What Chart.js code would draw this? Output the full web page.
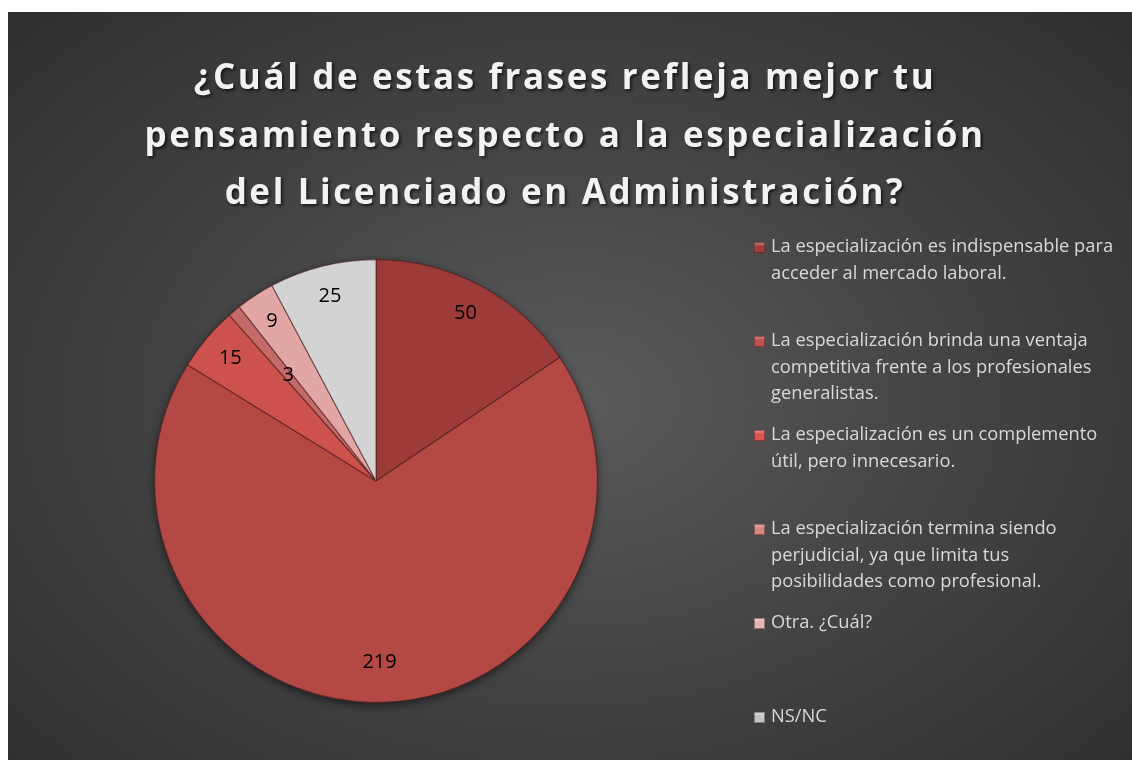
<!DOCTYPE html>
<html>
<head>
  <title>Especialización del Licenciado en Administración</title>
  <script src="https://cdn.jsdelivr.net/npm/chart.js"></script>
  <style>
    body { margin: 0; background: #fff; font-family: "Open Sans", sans-serif; }
    #panel {
      position: absolute; left: 8px; top: 12px; width: 1124px; height: 748px;
      background: radial-gradient(ellipse 75% 80% at 50% 52%, #5b5b5b 0%, #444 45%, #2b2b2b 100%);
      overflow: hidden;
    }
    #title {
      position: absolute; left: 0; top: 35px; width: 1114px; text-align: center;
      color: #f2f2f2; font-weight: 700; font-size: 35px; line-height: 57.5px;
      letter-spacing: 2.6px; text-shadow: 2px 2px 3px rgba(0,0,0,0.6);
    }
    #chartWrap { position: absolute; left: 0; top: 0; width: 1124px; height: 748px; }
    #legend { position: absolute; left: 746px; top: 220px; width: 380px; }
    .item { height: 94px; position: relative; color: #d9d9d9; font-size: 18.3px; line-height: 26.5px; }
    .item .box {
      position: absolute; left: 0; top: 10px; width: 11px; height: 11px;
      box-shadow: inset 0 0 0 1px rgba(0,0,0,0.35), inset 0 3px 2px rgba(255,255,255,0.25);
    }
    .item .txt { margin-left: 17px; white-space: nowrap; }
  </style>
</head>
<body>
  <div id="panel">
    <div id="chartWrap"><canvas id="pieChart"></canvas></div>
    <div id="title"></div>
    <div id="legend"></div>
  </div>
  <script>
    const TITLE_LINES = [
      '¿Cuál de estas frases refleja mejor tu',
      'pensamiento respecto a la especialización',
      'del Licenciado en Administración?'
    ];
    // legend labels, already split the way the original wraps them
    const LABELS = [
      ['La especialización es indispensable para', 'acceder al mercado laboral.'],
      ['La especialización brinda una ventaja', 'competitiva frente a los profesionales', 'generalistas.'],
      ['La especialización es un complemento', 'útil, pero innecesario.'],
      ['La especialización termina siendo', 'perjudicial, ya que limita tus', 'posibilidades como profesional.'],
      ['Otra. ¿Cuál?'],
      ['NS/NC']
    ];
    const VALUES = [50, 219, 15, 3, 9, 25];
    const COLORS = ['#9c3b39', '#b44845', '#cd524e', '#c46a68', '#e2a6a5', '#d3d3d3'];
    const LEGEND_COLORS = ['#a23f3c', '#c0504d', '#d9534f', '#d98583', '#e8b4b3', '#c4c4c4'];

    document.getElementById('title').innerHTML = TITLE_LINES.join('<br>');

    // value labels inside the slices
    const sliceLabels = {
      id: 'sliceLabels',
      afterDatasetsDraw(chart) {
        const ctx = chart.ctx;
        const meta = chart.getDatasetMeta(0);
        const data = chart.data.datasets[0].data;
        ctx.save();
        ctx.font = '20px "Open Sans", sans-serif';
        ctx.fillStyle = '#000';
        ctx.textAlign = 'center';
        ctx.textBaseline = 'middle';
        meta.data.forEach((arc, i) => {
          const p = arc.getProps(['x', 'y', 'startAngle', 'endAngle', 'outerRadius'], true);
          const mid = (p.startAngle + p.endAngle) / 2;
          let f = 0.86;
          if (data[i] < 5) f = 0.62;
          if (data[i] > 150) f = 0.82;
          const r = p.outerRadius * f;
          ctx.fillText(String(data[i]), p.x + Math.cos(mid) * r, p.y + Math.sin(mid) * r);
        });
        ctx.restore();
      }
    };

    const pieShadow = {
      id: 'pieShadow',
      beforeDatasetsDraw(chart) {
        const ctx = chart.ctx;
        const meta = chart.getDatasetMeta(0);
        const a = meta.data[0];
        ctx.save();
        ctx.shadowColor = 'rgba(0,0,0,0.55)';
        ctx.shadowBlur = 10;
        ctx.shadowOffsetY = 3;
        ctx.fillStyle = '#3a3a3a';
        ctx.beginPath();
        ctx.arc(a.x, a.y, a.outerRadius, 0, Math.PI * 2);
        ctx.fill();
        ctx.restore();
      }
    };

    new Chart(document.getElementById('pieChart'), {
      type: 'pie',
      data: {
        labels: LABELS.map(l => l.join(' ')),
        datasets: [{
          data: VALUES,
          backgroundColor: COLORS,
          borderColor: 'rgba(70,25,25,0.55)',
          borderWidth: 1.2
        }]
      },
      options: {
        responsive: true,
        maintainAspectRatio: false,
        animation: false,
        layout: { padding: { left: 146, right: 534, top: 246, bottom: 56 } },
        plugins: {
          legend: { display: false },
          tooltip: { enabled: false }
        }
      },
      plugins: [pieShadow, sliceLabels]
    });

    // legend on the right
    let html = '';
    LABELS.forEach((lines, i) => {
      html += `<div class="item"><span class="box" style="background:${LEGEND_COLORS[i]}"></span>` +
              `<div class="txt">${lines.join('<br>')}</div></div>`;
    });
    document.getElementById('legend').innerHTML = html;
  </script>
</body>
</html>
